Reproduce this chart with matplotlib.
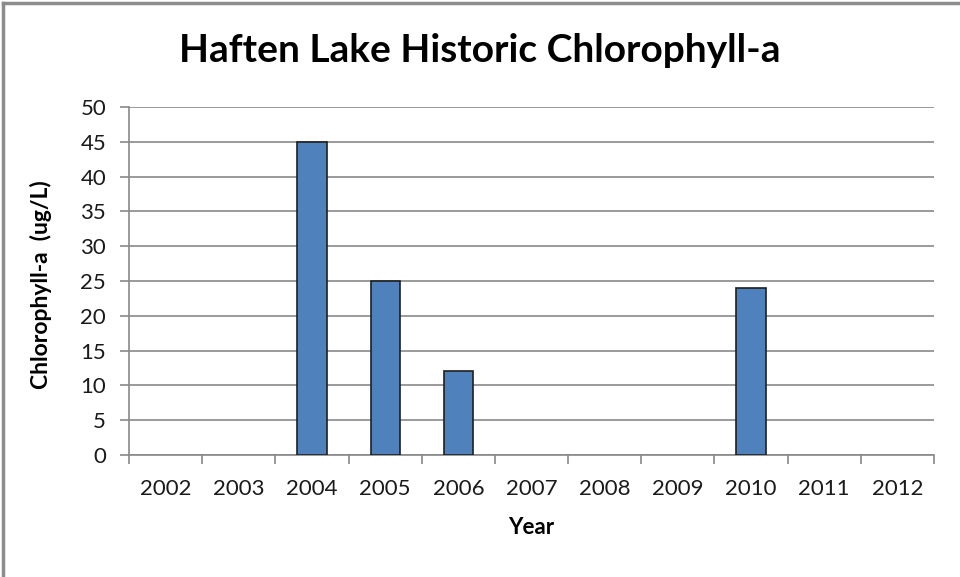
import math

import matplotlib.pyplot as plt
from matplotlib.lines import Line2D

years = ["2002", "2003", "2004", "2005", "2006", "2007", "2008", "2009", "2010", "2011", "2012"]
# no sample for the empty years
chl_a = [math.nan, math.nan, 45, 25, 12, math.nan, math.nan, math.nan, 24, math.nan, math.nan]
y_ticks = [0, 5, 10, 15, 20, 25, 30, 35, 40, 45, 50]

plt.rcParams["font.family"] = ["Lato", "DejaVu Sans"]

fig = plt.figure(figsize=(9.6, 5.77), dpi=100)
ax = fig.add_axes([129 / 960, 1 - 455 / 577, (934 - 129) / 960, (455 - 107) / 577])

x = list(range(len(years)))
ax.bar(x, chl_a, width=0.4, color="#4F81BD", edgecolor="#1F1F1F", linewidth=1.2, zorder=3)

ax.set_xlim(-0.5, len(years) - 0.5)
ax.set_ylim(0, 50)
ax.set_yticks(y_ticks)
ax.set_xticks(x)
ax.set_xticklabels(years)
# category boundary ticks like Excel
ax.set_xticks([i - 0.5 for i in range(len(years) + 1)], minor=True)
ax.tick_params(axis="x", which="major", length=0, pad=17, labelsize=16, labelcolor="#1a1a1a")
ax.tick_params(axis="x", which="minor", length=6.5, width=1.2, color="#898989")
ax.tick_params(axis="y", length=6.5, width=1.2, color="#898989", labelsize=16, labelcolor="#1a1a1a", pad=10)

ax.grid(axis="y", color="#898989", linewidth=1.2, zorder=0)
for side in ["top", "right"]:
    ax.spines[side].set_visible(False)
for side in ["left", "bottom"]:
    ax.spines[side].set_color("#898989")
    ax.spines[side].set_linewidth(1.2)

ax.set_xlabel("Year", fontsize=16, fontweight="bold", va="center")
ax.xaxis.set_label_coords(0.5, (455 - 528) / 348)
ax.set_ylabel("Chlorophyll-a  (ug/L)", fontsize=16.5, fontweight="bold", va="center")
ax.yaxis.set_label_coords((41 - 129) / 805, 0.49)
fig.text(0.5, 1 - 50 / 577, "Haften Lake Historic Chlorophyll-a", ha="center", va="center",
         fontsize=28, fontweight="bold")

# chart frame (top and left edges visible)
fig.add_artist(Line2D([3 / 960, 3 / 960], [0, 1 - 3 / 577], color="#8c8c8c", linewidth=2.5))
fig.add_artist(Line2D([3 / 960, 1], [1 - 3 / 577, 1 - 3 / 577], color="#8c8c8c", linewidth=2.5))

fig.savefig("out.png", dpi=100)
